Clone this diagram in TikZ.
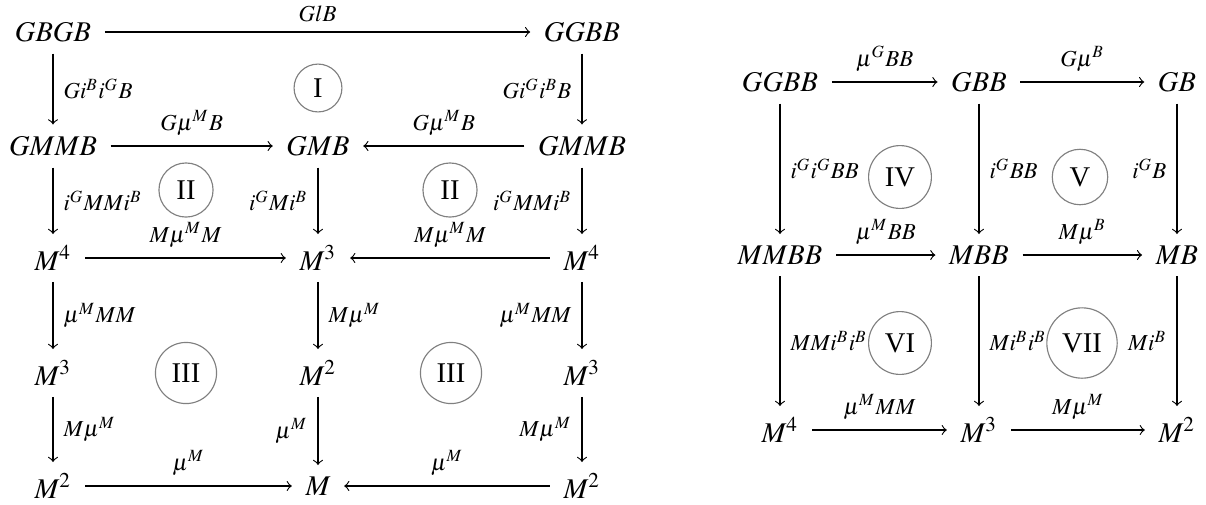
\documentclass[tikz,border=0pt]{standalone}
\usepackage{mathptmx}
\usepackage[no-math]{fontspec}
\setmainfont{Liberation Serif}

\begin{document}
\begin{tikzpicture}[
x=0.0123cm, y=-0.0123cm,
->,
every node/.style={inner xsep=1ex, inner ysep=0.85ex},
]
% \draw [help lines, step=100] (0,0) grid (1206,504);
\useasboundingbox (0,0) rectangle (1206,504);

\tikzset{
	lab/.style={font=\footnotesize, inner sep=3.5pt},
	num/.style={circle, draw=black!50, inner sep=3.4pt},
}

% left square
\node (gbgb) at (53,32) {$GBGB$};
\node (ggbb) at (582,32) {$GGBB$};
\node (gmmbl) at (53,146) {$GMMB$};
\node (gmb) at (318,146) {$GMB$};
\node (gmmbr) at (582,146) {$GMMB$};
\node (mfourl) at (53,258) {$M^4$};
\node (mthree) at (318,258) {$M^3$};
\node (mfourr) at (582,258) {$M^4$};
\node (mthreel) at (53,373) {$M^3$};
\node (mtwo) at (318,373) {$M^2$};
\node (mthreer) at (582,373) {$M^3$};
\node (mtwol) at (53,486) {$M^2$};
\node (m) at (318,486) {$M$};
\node (mtwor) at (582,486) {$M^2$};

\draw (gbgb) -- node[above, lab]{$GlB$} (ggbb);
\draw (gbgb) -- node[right, lab]{$Gi^Bi^GB$} (gmmbl);
\draw (ggbb) -- node[left, lab]{$Gi^Gi^BB$} (gmmbr);
\draw (gmmbl) -- node[above, lab]{$G\mu^MB$} (gmb);
\draw (gmmbr) -- node[above, lab]{$G\mu^MB$} (gmb);
\draw (gmmbl) -- node[right, lab]{$i^GMMi^B$} (mfourl);
\draw (gmb) -- node[left, lab]{$i^GMi^B$} (mthree);
\draw (gmmbr) -- node[left, lab]{$i^GMMi^B$} (mfourr);
\draw (mfourl) -- node[above, lab]{$M\mu^MM$} (mthree);
\draw (mfourr) -- node[above, lab]{$M\mu^MM$} (mthree);
\draw (mfourl) -- node[right, lab]{$\mu^MMM$} (mthreel);
\draw (mthree) -- node[right, lab]{$M\mu^M$} (mtwo);
\draw (mfourr) -- node[left, lab]{$\mu^MMM$} (mthreer);
\draw (mthreel) -- node[right, lab]{$M\mu^M$} (mtwol);
\draw (mtwo) -- node[left, lab]{$\mu^M$} (m);
\draw (mthreer) -- node[left, lab]{$M\mu^M$} (mtwor);
\draw (mtwol) -- node[above, lab]{$\mu^M$} (m);
\draw (mtwor) -- node[above, lab]{$\mu^M$} (m);

\node[num] (one) at (318,88) {I};
\node[num] (twol) at (186,190) {II};
\node[num] (twor) at (450,190) {II};
\node[num] (threel) at (186,373) {III};
\node[num] (threer) at (451,373) {III};

% right square
\node (ggbb2) at (780,82) {$GGBB$};
\node (gbb) at (979,82) {$GBB$};
\node (gb) at (1177,82) {$GB$};
\node (mmbb) at (780,255) {$MMBB$};
\node (mbb) at (979,255) {$MBB$};
\node (mb) at (1177,255) {$MB$};
\node (mfour2) at (780,430) {$M^4$};
\node (mthree2) at (979,430) {$M^3$};
\node (mtwo2) at (1177,430) {$M^2$};

\draw (ggbb2) -- node[above, lab]{$\mu^GBB$} (gbb);
\draw (gbb) -- node[above, lab]{$G\mu^B$} (gb);
\draw (ggbb2) -- node[right, lab]{$i^Gi^GBB$} (mmbb);
\draw (gbb) -- node[right, lab]{$i^GBB$} (mbb);
\draw (gb) -- node[left, lab]{$i^GB$} (mb);
\draw (mmbb) -- node[above, lab]{$\mu^MBB$} (mbb);
\draw (mbb) -- node[above, lab]{$M\mu^B$} (mb);
\draw (mmbb) -- node[right, lab]{$MMi^Bi^B$} (mfour2);
\draw (mbb) -- node[right, lab]{$Mi^Bi^B$} (mthree2);
\draw (mb) -- node[left, lab]{$Mi^B$} (mtwo2);
\draw (mfour2) -- node[above, lab]{$\mu^MMM$} (mthree2);
\draw (mthree2) -- node[above, lab]{$M\mu^M$} (mtwo2);

\node[num] (four) at (900,177) {IV};
\node[num] (five) at (1080,177) {V};
\node[num] (six) at (900,343) {VI};
\node[num] (seven) at (1082,343) {VII};

\end{tikzpicture}
\end{document}
